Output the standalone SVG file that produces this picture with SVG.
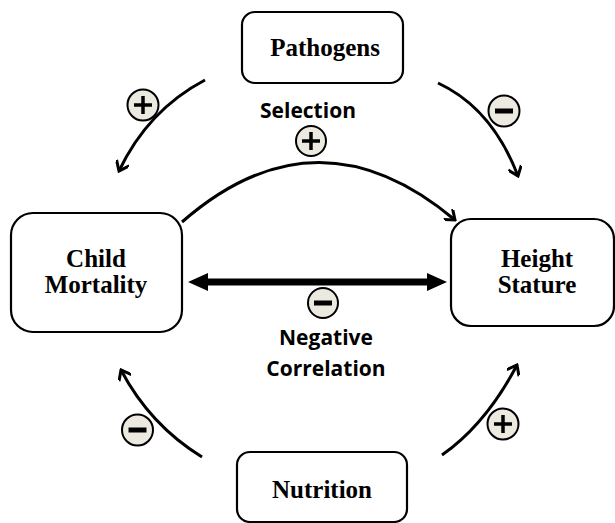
<svg xmlns="http://www.w3.org/2000/svg" width="615" height="523" viewBox="0 0 615 523">
<style>
.box{fill:#fff;stroke:#000;stroke-width:2.2}
.lbl{font-family:"Liberation Serif","Times New Roman",serif;font-weight:bold;font-size:25px;text-anchor:middle;fill:#000}
.cap{font-family:"Open Sans","Liberation Sans",sans-serif;font-weight:bold;font-size:21px;text-anchor:middle;fill:#000}
.arc{fill:none;stroke:#000;stroke-width:3;marker-end:url(#v)}
.sgn{fill:#ECEAE0;stroke:#000;stroke-width:2}
.bar{stroke:#000;stroke-width:3.5;stroke-linecap:butt}
.mbar{stroke:#000;stroke-width:5;stroke-linecap:butt}
</style>
<defs>
<marker id="v" viewBox="0 0 14 14" refX="12" refY="7" markerWidth="14" markerHeight="14" markerUnits="userSpaceOnUse" orient="auto">
<polyline points="3,0 12,7 3,14" fill="none" stroke="#000" stroke-width="3"/>
</marker>
</defs>
<rect width="615" height="523" fill="#fff"/>
<g id="connectors">
<path class="arc" d="M205,80 Q148,110 119,171"/>
<path class="arc" d="M438,83 Q492,108 518,176"/>
<path class="arc" d="M182,222 Q317,104 455,220"/>
<path class="arc" d="M202,457 Q150,425 121,370"/>
<path class="arc" d="M442,455 Q486,424 517,365"/>
<polygon points="188,282 208,273 208,278.5 427,278.5 427,273 447,282 427,291 427,285.5 208,285.5 208,291" fill="#000"/>
</g>
<g id="pathogens">
<rect class="box" x="242" y="12" width="161" height="71" rx="13"/>
<text class="lbl" x="325" y="56">Pathogens</text>
</g>
<g id="child-mortality">
<rect class="box" x="11" y="213" width="171" height="119" rx="22"/>
<text class="lbl" x="96" y="267">Child</text>
<text class="lbl" x="96" y="293">Mortality</text>
</g>
<g id="height-stature">
<rect class="box" x="451" y="219" width="163" height="107" rx="20"/>
<text class="lbl" x="537" y="267">Height</text>
<text class="lbl" x="537" y="293">Stature</text>
</g>
<g id="nutrition">
<rect class="box" x="237" y="452" width="170" height="70" rx="13"/>
<text class="lbl" x="322" y="498">Nutrition</text>
</g>
<g id="labels">
<text class="cap" x="308" y="118">Selection</text>
<text class="cap" x="326" y="345">Negative</text>
<text class="cap" x="326" y="376">Correlation</text>
</g>
<g id="signs">
<circle class="sgn" cx="143" cy="105" r="15.5"/>
<line class="bar" x1="134" y1="105" x2="152" y2="105"/><line class="bar" x1="143" y1="96" x2="143" y2="114"/>
<circle class="sgn" cx="311" cy="141" r="15"/>
<line class="bar" x1="302" y1="141" x2="320" y2="141"/><line class="bar" x1="311" y1="132" x2="311" y2="150"/>
<circle class="sgn" cx="504" cy="111" r="15.5"/>
<line class="mbar" x1="495" y1="111" x2="513" y2="111"/>
<circle class="sgn" cx="323" cy="303" r="15"/>
<line class="mbar" x1="314" y1="303" x2="332" y2="303"/>
<circle class="sgn" cx="137.5" cy="430" r="15.5"/>
<line class="mbar" x1="128.5" y1="430" x2="146.5" y2="430"/>
<circle class="sgn" cx="503" cy="424" r="15.5"/>
<line class="bar" x1="494" y1="424" x2="512" y2="424"/><line class="bar" x1="503" y1="415" x2="503" y2="433"/>
</g>
</svg>
